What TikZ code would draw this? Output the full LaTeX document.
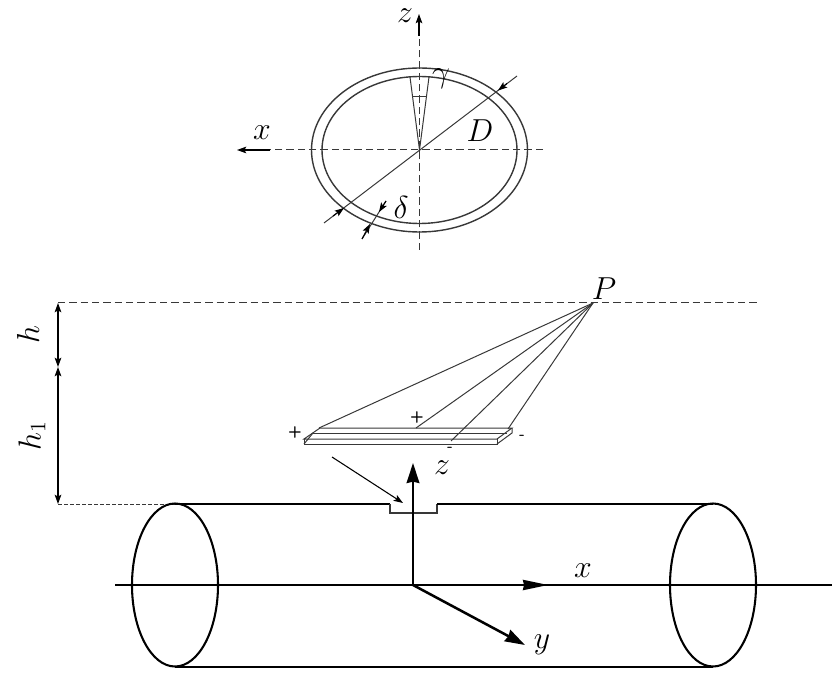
\documentclass[tikz,border=0pt]{standalone}
\usepackage{mathtools}
\usetikzlibrary{arrows.meta}
\definecolor{lineGrey}{rgb}{0.22,0.22,0.22}
\newcommand{\lbl}[1]{\scalebox{1.38}{$#1$}}
\begin{document}
\begin{tikzpicture}[x=0.75pt,y=0.75pt,yscale=-1,xscale=1,
  thinline/.style={draw=lineGrey,line width=0.75pt},
  dashline/.style={draw=lineGrey,line width=0.75pt,dash pattern=on 5.5pt off 3pt},
  ringline/.style={draw=lineGrey,line width=1.05pt},
  heavyline/.style={draw=black,line width=1.55pt},
  dimarrow/.style={draw=black,line width=0.8pt,-{Stealth[length=7pt,width=5pt,inset=1.5pt]}},
  bigarrow/.style={draw=black,line width=1.9pt,-{Stealth[length=15pt,width=9.5pt,inset=1pt]}},
  mathlabel/.style={inner sep=0pt,font=\LARGE},
  signlabel/.style={inner sep=0pt,font=\sffamily\bfseries\fontsize{12}{14}\selectfont}]
\useasboundingbox (0,0) rectangle (839,677);

%Named points
\coordinate (ringC) at (419.5,150);
\coordinate (axisTop) at (419,14);
\coordinate (axisBot) at (419,250);
\coordinate (axisZbreak) at (419,36);
\coordinate (axisRight) at (543,150);
\coordinate (axisXbreak) at (270,150);
\coordinate (axisLeft) at (237,150);
\coordinate (wedgeL) at (410,77);
\coordinate (wedgeR) at (429,77);
\coordinate (wedgeML) at (413,97);
\coordinate (wedgeMR) at (425.5,97);
\coordinate (diamA) at (324,223);
\coordinate (diamB) at (517,76);
\coordinate (diamTipA) at (344,208);
\coordinate (diamTipB) at (498,90.5);
\coordinate (diamTailA) at (333,216);
\coordinate (diamTailB) at (507,83.5);
\coordinate (thickA) at (362,239);
\coordinate (thickB) at (386,201);
\coordinate (thickTipA) at (370,224);
\coordinate (thickTipB) at (379,212);
\coordinate (P) at (593,303);
\coordinate (topL) at (58,303);
\coordinate (topR) at (757,303);
\coordinate (midDim) at (58,367);
\coordinate (botL) at (58,504);
\coordinate (cylTL) at (175,504);
\coordinate (cylTR) at (713,504);
\coordinate (cylBL) at (175,667);
\coordinate (cylBR) at (713,667);
\coordinate (notchA) at (390,504);
\coordinate (notchB) at (390,513);
\coordinate (notchC) at (437,513);
\coordinate (notchD) at (437,504);
\coordinate (origin) at (413,585);
\coordinate (zTip) at (413,463);
\coordinate (yTip) at (525,645);
\coordinate (axisA) at (115,585);
\coordinate (axisB) at (832,585);
\coordinate (xTip) at (548,585);
\coordinate (gaugeTail) at (332,457);
\coordinate (gaugeTip) at (403,503);
\coordinate (plateBL) at (320,428);
\coordinate (plateBR) at (512,428);
\coordinate (plateFL) at (304,439);
\coordinate (plateFR) at (497,439);
\coordinate (plateFLb) at (304,444);
\coordinate (plateFRb) at (497,444);
\coordinate (plateBRb) at (512,433);
\coordinate (plateML) at (313,433);
\coordinate (plateMR) at (507,433);
\coordinate (leadA) at (319,428);
\coordinate (leadB) at (416,428);
\coordinate (leadC) at (451,441);
\coordinate (leadD) at (508,429);

%Ring section
\draw [ringline] (ringC) ellipse (108 and 82);
\draw [ringline] (ringC) ellipse (97.5 and 73.5);
\draw [dashline] (axisBot) -- (axisZbreak);
\draw [dimarrow] (axisZbreak) -- (axisTop);
\draw [dashline] (axisRight) -- (axisXbreak);
\draw [dimarrow] (axisXbreak) -- (axisLeft);
\draw [thinline] (wedgeL) -- (ringC) -- (wedgeR);
\draw [thinline] (wedgeML) -- (wedgeMR);
\draw [thinline] (diamA) -- (diamB);
\draw [dimarrow] (diamTailA) -- (diamTipA);
\draw [dimarrow] (diamTailB) -- (diamTipB);
\draw [thinline] (thickA) -- (thickB);
\draw [dimarrow] (thickA) -- (thickTipA);
\draw [dimarrow] (thickB) -- (thickTipB);

%Labels of the section
\node [mathlabel] (lblZtop) at (405,16) {\lbl{z}};
\node [mathlabel] (lblXtop) at (262,133) {\lbl{x}};
\node [mathlabel] (lblGamma) at (441,79) {\lbl{\gamma}};
\node [mathlabel] (lblD) at (480,131) {\lbl{D}};
\node [mathlabel] (lblDelta) at (401,207) {\lbl{\delta}};

%Height dimensions
\draw [dashline] (topL) -- (topR);
\draw [dashline,dash pattern=on 3pt off 1.5pt] (botL) -- (cylTL);
\draw [dimarrow,{Stealth[length=7pt,width=5pt,inset=1.5pt]}-{Stealth[length=7pt,width=5pt,inset=1.5pt]}] (topL) -- (midDim);
\draw [dimarrow,{Stealth[length=7pt,width=5pt,inset=1.5pt]}-{Stealth[length=7pt,width=5pt,inset=1.5pt]}] (midDim) -- (botL);
\node [mathlabel,rotate=90] (lblH) at (28,335) {\lbl{h}};
\node [mathlabel,rotate=90] (lblHone) at (32,436) {\lbl{h_1}};

%Point and leads
\node [mathlabel] (lblP) at (604,289) {\lbl{P}};
\draw [thinline] (P) -- (leadA);
\draw [thinline] (P) -- (leadB);
\draw [thinline] (P) -- (leadC);
\draw [thinline] (P) -- (leadD);

%Plate
\draw [thinline] (plateFL) -- (plateBL) -- (plateBR) -- (plateFR) -- cycle;
\draw [thinline] (plateFL) -- (plateFLb) -- (plateFRb) -- (plateFR);
\draw [thinline] (plateBR) -- (plateBRb) -- (plateFRb);
\draw [thinline] (plateML) -- (plateMR);
\draw [thinline] (plateFLb) -- (plateML);
\node [signlabel] (lblPlusA) at (295,432) {+};
\node [signlabel] (lblPlusB) at (417,417) {+};
\node [signlabel] (lblMinusA) at (450,449) {-};
\node [signlabel] (lblMinusB) at (522,437) {-};

%Arrow to the notch
\draw [dimarrow] (gaugeTail) -- (gaugeTip);

%Cylinder
\draw [heavyline] (175,585) ellipse (43 and 81.5);
\draw [heavyline] (713,585) ellipse (43 and 81.5);
\draw [heavyline] (cylTL) -- (notchA);
\draw [thinline,line width=0.9pt] (notchA) -- (notchB) -- (notchC) -- (notchD);
\draw [heavyline] (notchD) -- (cylTR);
\draw [heavyline] (cylBL) -- (cylBR);

%Axes of the cylinder
\draw [heavyline] (axisA) -- (axisB);
\draw [draw=black,line width=0pt,-{Stealth[length=19pt,width=8pt,inset=1pt]}] (530,585) -- (xTip);
\draw [bigarrow] (origin) -- (zTip);
\draw [bigarrow] (origin) -- (yTip);
\node [mathlabel] (lblZ) at (442,468) {\lbl{z}};
\node [mathlabel] (lblX) at (583,571) {\lbl{x}};
\node [mathlabel] (lblY) at (542,645) {\lbl{y}};

\end{tikzpicture}
\end{document}
